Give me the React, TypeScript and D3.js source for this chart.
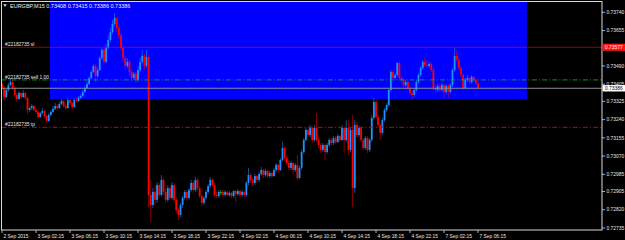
import React from "react";
import * as d3 from "d3";

const W = 625;
const H = 240;

const symbolTitle = "EURGBP,M15";
const lastOHLC = [0.73408, 0.73415, 0.73386, 0.73386];
const bidPrice = 0.73386;

// price axis tick labels
const priceTicks = [0.7374, 0.73655, 0.7349, 0.73405, 0.73325, 0.7324, 0.73155, 0.7307, 0.72985, 0.72905, 0.7282, 0.72735];

// time axis labels and their bar index
const timeLabels = ["2 Sep 2015", "3 Sep 02:15", "3 Sep 06:15", "3 Sep 10:15", "3 Sep 14:15", "3 Sep 18:15", "3 Sep 22:15", "4 Sep 02:15", "4 Sep 06:15", "4 Sep 10:15", "4 Sep 14:15", "4 Sep 18:15", "4 Sep 22:15", "7 Sep 02:15", "7 Sep 06:15"];
const timeLabelBars = [0, 16, 32, 48, 64, 80, 96, 112, 128, 144, 160, 176, 192, 208, 224];

// M15 candles, prices in points (1e-5)
const firstOpen = 73406;
const closes = [
  73387, 73345, 73378, 73401, 73415, 73387, 73355, 73336, 73364, 73345,
  73364, 73341, 73285, 73294, 73303, 73285, 73276, 73252, 73271, 73280,
  73257, 73234, 73262, 73276, 73290, 73303, 73294, 73313, 73327, 73303,
  73294, 73331, 73317, 73299, 73331, 73327, 73341, 73350, 73369, 73387,
  73406, 73434, 73462, 73490, 73443, 73471, 73527, 73565, 73509, 73574,
  73611, 73648, 73686, 73714, 73667, 73634, 73574, 73527, 73490, 73509,
  73462, 73434, 73453, 73425, 73471, 73509, 73537, 73490, 73532, 72889,
  72842, 72903, 72866, 72935, 72889, 72959, 72903, 72866, 72921, 72875,
  72935, 72866, 72819, 72796, 72842, 72875, 72903, 72875, 72912, 72945,
  72912, 72959, 72921, 72884, 72852, 72875, 72903, 72931, 72959, 72935,
  72889, 72884, 72903, 72903, 72889, 72903, 72889, 72898, 72884, 72907,
  72893, 72907, 72889, 72903, 72889, 72945, 72982, 72959, 72945, 72977,
  72959, 72987, 73005, 72982, 73001, 72977, 72991, 72977, 73005, 73029,
  73005, 73052, 73108, 73061, 73038, 73015, 73038, 73005, 73029, 72968,
  73015, 73089, 73145, 73192, 73168, 73201, 73145, 73201, 73145, 73122,
  73099, 73122, 73089, 73122, 73145, 73131, 73154, 73136, 73164, 73145,
  73201, 73145, 73201, 73099, 73192, 72921, 73215, 73168, 73201, 73145,
  73108, 73154, 73099, 73145, 73248, 73322, 73252, 73215, 73178, 73238,
  73285, 73308, 73378, 73462, 73434, 73448, 73504, 73434, 73425, 73401,
  73415, 73387, 73364, 73355, 73378, 73415, 73448, 73481, 73509, 73495,
  73490, 73499, 73471, 73387, 73378, 73397, 73378, 73401, 73369, 73397,
  73369, 73401, 73471, 73537, 73518, 73481, 73448, 73387, 73425, 73434,
  73415, 73439, 73425, 73408, 73386,
];
const highs = [
  73415, 73397, 73387, 73411, 73434, 73425, 73397, 73364, 73373, 73369,
  73378, 73369, 73345, 73303, 73313, 73308, 73294, 73280, 73276, 73294,
  73285, 73262, 73271, 73285, 73303, 73317, 73313, 73322, 73336, 73331,
  73313, 73341, 73336, 73322, 73341, 73345, 73350, 73359, 73378, 73397,
  73415, 73443, 73471, 73499, 73499, 73485, 73537, 73574, 73578, 73592,
  73634, 73667, 73704, 73737, 73714, 73681, 73644, 73583, 73537, 73527,
  73518, 73471, 73462, 73462, 73490, 73527, 73565, 73546, 73565, 73541,
  72959, 72921, 72931, 72949, 72945, 72982, 72968, 72921, 72935, 72931,
  72949, 72945, 72875, 72828, 72852, 72884, 72912, 72912, 72921, 72959,
  72954, 72973, 72968, 72931, 72893, 72884, 72912, 72940, 72973, 72968,
  72945, 72903, 72912, 72912, 72912, 72912, 72907, 72907, 72903, 72912,
  72912, 72917, 72912, 72912, 72907, 72954, 73015, 72991, 72968, 72987,
  72982, 72996, 73019, 73010, 73010, 73005, 73001, 72996, 73015, 73038,
  73033, 73061, 73136, 73117, 73075, 73052, 73047, 73043, 73038, 73075,
  73024, 73099, 73154, 73201, 73196, 73215, 73206, 73215, 73271, 73154,
  73131, 73131, 73126, 73131, 73154, 73154, 73164, 73164, 73173, 73168,
  73215, 73206, 73238, 73238, 73201, 73262, 73238, 73229, 73210, 73206,
  73154, 73164, 73164, 73154, 73262, 73341, 73331, 73262, 73224, 73248,
  73294, 73317, 73387, 73471, 73471, 73457, 73509, 73509, 73443, 73434,
  73425, 73420, 73397, 73378, 73387, 73425, 73457, 73490, 73518, 73532,
  73518, 73509, 73509, 73481, 73397, 73406, 73406, 73411, 73406, 73406,
  73406, 73411, 73481, 73574, 73565, 73527, 73490, 73453, 73434, 73448,
  73443, 73448, 73443, 73434, 73415,
];
const lows = [
  73378, 73331, 73341, 73369, 73397, 73378, 73345, 73322, 73331, 73336,
  73341, 73331, 73266, 73276, 73285, 73276, 73266, 73243, 73248, 73266,
  73248, 73224, 73229, 73257, 73271, 73285, 73285, 73290, 73308, 73294,
  73285, 73290, 73308, 73290, 73294, 73317, 73322, 73336, 73345, 73364,
  73383, 73401, 73429, 73457, 73415, 73434, 73467, 73518, 73495, 73504,
  73565, 73602, 73639, 73676, 73648, 73620, 73565, 73509, 73471, 73481,
  73443, 73415, 73425, 73411, 73415, 73462, 73499, 73471, 73481, 72833,
  72763, 72828, 72842, 72852, 72875, 72880, 72889, 72852, 72856, 72866,
  72866, 72852, 72805, 72772, 72786, 72828, 72866, 72861, 72866, 72903,
  72898, 72903, 72907, 72875, 72838, 72842, 72866, 72893, 72921, 72926,
  72880, 72875, 72875, 72889, 72880, 72880, 72884, 72880, 72875, 72875,
  72856, 72884, 72880, 72880, 72880, 72880, 72935, 72945, 72931, 72935,
  72945, 72949, 72977, 72968, 72973, 72968, 72968, 72968, 72973, 72996,
  72991, 73001, 73043, 73047, 73029, 73005, 73005, 72987, 72996, 72959,
  72963, 73005, 73080, 73136, 73154, 73159, 73131, 73136, 73136, 73108,
  73085, 73089, 73052, 73080, 73112, 73117, 73122, 73126, 73131, 73136,
  73140, 73085, 73136, 73075, 73089, 72833, 72898, 73154, 73159, 73136,
  73099, 73099, 73085, 73089, 73136, 73238, 73243, 73201, 73145, 73168,
  73229, 73276, 73299, 73369, 73425, 73425, 73439, 73425, 73411, 73392,
  73392, 73378, 73355, 73331, 73345, 73369, 73406, 73439, 73471, 73485,
  73481, 73481, 73462, 73378, 73364, 73369, 73369, 73369, 73341, 73359,
  73341, 73359, 73392, 73462, 73509, 73471, 73439, 73378, 73383, 73415,
  73406, 73406, 73415, 73401, 73386,
];

// rectangle object anchors (bar index / price)
const rectBars = [22.6, 247];
const rectPrices = [0.738, 0.73335];

// order lines
const orderLabels = ["#22182735 sl", "#22182735 sell 1.00", "#22182735 tp"];
const orderPrices = [0.73577, 0.73425, 0.73204];
const orderKinds = ["sl", "open", "tp"];

const FONT = "'Liberation Sans', Arial, sans-serif";
const FS = 4.9;

export default function App() {
  const left = 1.5;
  const top = 1.5;
  const right = 602;
  const bottom = 230;

  const x = d3.scaleLinear().domain([0, 224]).range([2, 478]);
  const y = d3.scaleLinear().domain([0.72735, 0.7374]).range([228, 12.3]);
  const p = (v: number) => v / 100000;

  const candles = closes.map((c, i) => {
    const o = i === 0 ? firstOpen : closes[i - 1];
    return { i, o: p(o), h: p(highs[i]), l: p(lows[i]), c: p(c) };
  });

  const fmt = d3.format(".5f");
  const bw = 1.8;

  const lineStyle: Record<string, { stroke: string; dash?: string; opacity: number }> = {
    sl: { stroke: "#ff0000", opacity: 0.6 },
    open: { stroke: "#13a313", dash: "5,2,1.2,2", opacity: 0.9 },
    tp: { stroke: "#e00000", dash: "5,2,1.2,2", opacity: 0.9 },
  };

  return (
    <svg
      width={W}
      height={H}
      style={{ position: "fixed", left: 0, top: 0, display: "block" }}
      fontFamily={FONT}
    >
      <defs>
        <clipPath id="plot">
          <rect x={left} y={top} width={right - left} height={bottom - top} />
        </clipPath>
      </defs>
      <rect x={0} y={0} width={W} height={H} fill="#000" />

      <g clipPath="url(#plot)">
        {/* rectangle object */}
        <rect
          x={x(rectBars[0])}
          y={y(rectPrices[0])}
          width={x(rectBars[1]) - x(rectBars[0])}
          height={y(rectPrices[1]) - y(rectPrices[0])}
          fill="#0000ff"
        />

        {/* candles */}
        {candles.map((d) => {
          const color = d.c > d.o ? "#1e90ff" : d.c < d.o ? "#ff0000" : "#00ff00";
          const cx = x(d.i);
          const yTop = y(Math.max(d.o, d.c));
          const yBot = y(Math.min(d.o, d.c));
          return (
            <g key={d.i}>
              <line x1={cx} x2={cx} y1={y(d.h)} y2={y(d.l)} stroke={color} strokeOpacity={0.55} strokeWidth={1} />
              <rect x={cx - bw / 2} y={yTop} width={bw} height={Math.max(yBot - yTop, 0.8)} fill={color} />
            </g>
          );
        })}

        {/* order lines */}
        {orderPrices.map((pr, k) => {
          const st = lineStyle[orderKinds[k]];
          return (
            <line
              key={k}
              x1={left}
              x2={right}
              y1={y(pr)}
              y2={y(pr)}
              stroke={st.stroke}
              strokeOpacity={st.opacity}
              strokeWidth={1}
              strokeDasharray={st.dash}
            />
          );
        })}

        {/* bid line */}
        <line x1={left} x2={right} y1={y(bidPrice)} y2={y(bidPrice)} stroke="#8c8c8c" strokeWidth={1} />

        {/* order labels */}
        {orderPrices.map((pr, k) => (
          <text key={k} x={5} y={y(pr) - 1.4} fill="#e8e8e8" fontSize={FS}>
            {orderLabels[k]}
          </text>
        ))}
      </g>

      {/* frame */}
      <rect x={left} y={top} width={right - left} height={bottom - top} fill="none" stroke="#d8d8d8" strokeWidth={1} />

      {/* title */}
      <path d="M3.2,4.2 L6.8,4.2 L5,6.8 Z" fill="#e8e8e8" />
      <text x={10} y={7.6} fill="#f0f0f0" fontSize={5.5}>
        {symbolTitle + "  " + lastOHLC.map(fmt).join(" ")}
      </text>

      {/* price axis */}
      {priceTicks.map((t) => (
        <g key={t}>
          <line x1={right} x2={right + 3} y1={y(t)} y2={y(t)} stroke="#d8d8d8" strokeWidth={0.8} />
          <text x={606.5} y={y(t)} dy="0.35em" fill="#e8e8e8" fontSize={FS}>
            {fmt(t)}
          </text>
        </g>
      ))}

      {/* sl price box */}
      <rect x={602.5} y={y(orderPrices[0]) - 3.6} width={22.5} height={7.2} fill="#ff1010" />
      <text x={605} y={y(orderPrices[0])} dy="0.35em" fill="#ffffff" fontSize={FS}>
        {fmt(orderPrices[0])}
      </text>

      {/* bid price box */}
      <rect x={602.5} y={y(bidPrice) - 3.2} width={22.5} height={6.4} fill="#ffffff" />
      <text x={605} y={y(bidPrice)} dy="0.35em" fill="#000000" fontSize={FS}>
        {fmt(bidPrice)}
      </text>

      {/* time axis */}
      {timeLabels.map((lab, k) => {
        const tx = x(timeLabelBars[k]);
        return (
          <g key={lab}>
            <line x1={tx} x2={tx} y1={bottom} y2={bottom + 3} stroke="#d8d8d8" strokeWidth={0.8} />
            <text x={tx + 1.5} y={238} fill="#e8e8e8" fontSize={FS}>
              {lab}
            </text>
          </g>
        );
      })}
    </svg>
  );
}
